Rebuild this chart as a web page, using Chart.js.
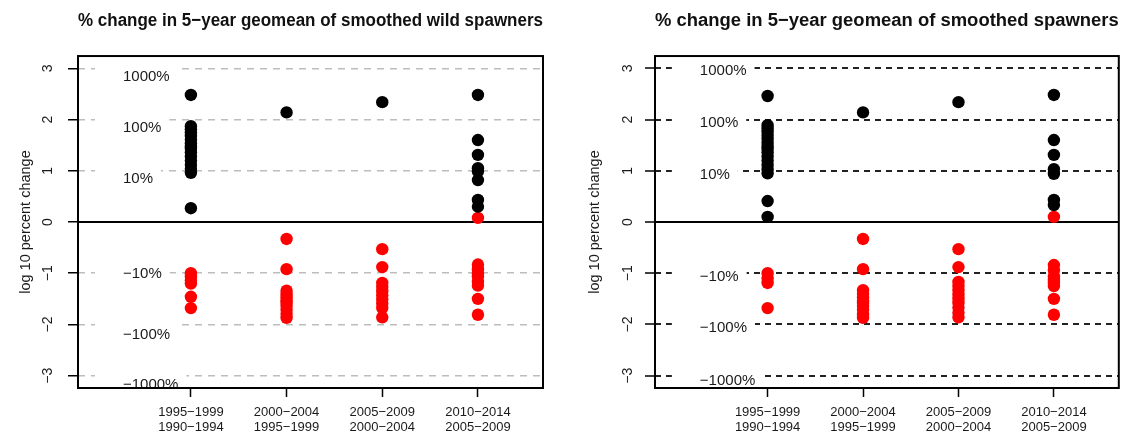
<!DOCTYPE html>
<html>
<head>
<meta charset="utf-8">
<script src="https://cdn.jsdelivr.net/npm/chart.js@4"></script>
<style>
  html, body { margin: 0; padding: 0; background: #fff; }
  #wrap { position: relative; width: 1125px; height: 436px; overflow: hidden; background: #fff; }
  canvas { position: absolute; top: 0; }
</style>
</head>
<body>
<div id="wrap">
  <canvas id="wild" width="565" height="436" style="left:0;width:565px;height:436px"></canvas>
  <canvas id="all" width="560" height="436" style="left:565px;width:560px;height:436px"></canvas>
</div>
<script>
// Period pairs compared (later period over earlier one)
const periods = [
  ['1995−1999', '1990−1994'],
  ['2000−2004', '1995−1999'],
  ['2005−2009', '2000−2004'],
  ['2010−2014', '2005−2009']
];
const yTicks = [-3, -2, -1, 0, 1, 2, 3];
const pctLevels = [3, 2, 1, -1, -2, -3];
const pctLabels = ['1000%', '100%', '10%', '−10%', '−100%', '−1000%'];

// log10 percent change per population, one inner list per period pair
const wildBlack = [
  [2.48, 1.87, 1.81, 1.75, 1.68, 1.61, 1.54, 1.48, 1.43, 1.36, 1.28, 1.20, 1.12, 1.04, 0.96, 0.27],
  [2.14],
  [2.34],
  [2.48, 1.60, 1.31, 1.05, 0.99, 0.82, 0.43, 0.30]
];
const wildRed = [
  [-1.00, -1.07, -1.14, -1.20, -1.46, -1.68],
  [-0.33, -0.92, -1.34, -1.41, -1.47, -1.53, -1.58, -1.64, -1.71, -1.79, -1.87],
  [-0.53, -0.88, -1.19, -1.27, -1.35, -1.43, -1.51, -1.59, -1.68, -1.86],
  [0.08, -0.83, -0.92, -1.00, -1.07, -1.17, -1.24, -1.50, -1.81]
];
const allBlack = [
  [2.46, 1.89, 1.83, 1.76, 1.69, 1.62, 1.55, 1.49, 1.43, 1.36, 1.28, 1.20, 1.12, 1.03, 0.95, 0.41, 0.10],
  [2.14],
  [2.34],
  [2.48, 1.60, 1.31, 1.03, 0.94, 0.43, 0.33]
];
const allRed = [
  [-1.00, -1.10, -1.19, -1.68],
  [-0.33, -0.92, -1.33, -1.40, -1.47, -1.53, -1.58, -1.64, -1.71, -1.80, -1.87],
  [-0.53, -0.88, -1.17, -1.25, -1.33, -1.42, -1.50, -1.58, -1.67, -1.77, -1.86],
  [0.10, -0.84, -0.94, -1.06, -1.13, -1.19, -1.25, -1.50, -1.81]
];

const FONT = "'Liberation Sans', Arial, Helvetica, sans-serif";
Chart.defaults.font.family = FONT;

function toPoints(groups) {
  return groups.flatMap((vals, i) => vals.map(v => ({ x: i + 1, y: v })));
}

// zero line, percent labels on white patches, and the box round the plot
const panelDecor = {
  id: 'panelDecor',
  beforeDatasetsDraw(chart, args, opts) {
    const { ctx, chartArea: a, scales: { x, y } } = chart;
    ctx.save();
    ctx.beginPath();
    ctx.rect(a.left, a.top, a.right - a.left, a.bottom - a.top);
    ctx.clip();
    const y0 = y.getPixelForValue(0);
    ctx.strokeStyle = '#000';
    ctx.lineWidth = 2;
    ctx.beginPath();
    ctx.moveTo(a.left, y0);
    ctx.lineTo(a.right, y0);
    ctx.stroke();
    ctx.font = '15px ' + FONT;
    ctx.textAlign = 'left';
    ctx.textBaseline = 'middle';
    const tx = x.getPixelForValue(opts.labelX);
    pctLevels.forEach((lv, i) => {
      const ly = y.getPixelForValue(lv);
      const w = ctx.measureText(pctLabels[i]).width;
      ctx.fillStyle = '#fff';
      ctx.fillRect(tx - 28, ly - 3, w + 36, 6);
      ctx.fillStyle = '#1a1a1a';
      ctx.fillText(pctLabels[i], tx, ly + opts.offsets[i]);
    });
    ctx.restore();
  },
  afterDatasetsDraw(chart) {
    const { ctx, chartArea: a } = chart;
    ctx.save();
    ctx.strokeStyle = '#000';
    ctx.lineWidth = 2;
    ctx.strokeRect(a.left, a.top, a.right - a.left, a.bottom - a.top);
    ctx.restore();
  }
};

function makePanel(id, title, black, red, st) {
  return new Chart(document.getElementById(id), {
    type: 'scatter',
    data: {
      datasets: [
        { data: toPoints(black), backgroundColor: '#000', borderWidth: 0, pointRadius: 6.2, pointHoverRadius: 6.2 },
        { data: toPoints(red), backgroundColor: '#ff0000', borderWidth: 0, pointRadius: 6.2, pointHoverRadius: 6.2 }
      ]
    },
    options: {
      responsive: false,
      animation: false,
      devicePixelRatio: 1,
      events: [],
      layout: { padding: { top: 10, left: 0, right: st.rightPad, bottom: 0 } },
      plugins: {
        legend: { display: false },
        tooltip: { enabled: false },
        title: {
          display: true, text: title, fullSize: false, color: '#111',
          font: { family: FONT, size: 18.7, weight: 'bold', lineHeight: 1.2 },
          padding: { top: 0, bottom: 23.6 }
        },
        panelDecor: { labelX: 0.29, offsets: st.labelOffsets }
      },
      scales: {
        x: {
          type: 'linear', min: -0.18, max: 4.68,
          afterBuildTicks: s => { s.ticks = periods.map((p, i) => ({ value: i + 1 })); },
          afterFit: s => { s.height = 48; },
          ticks: {
            callback: v => periods[v - 1],
            autoSkip: false, maxRotation: 0, padding: 8, color: '#1a1a1a',
            font: { family: FONT, size: 13, lineHeight: 1.15 }
          },
          grid: { drawOnChartArea: false, tickLength: 9, tickColor: '#000', tickWidth: 1.5 },
          border: { display: false }
        },
        y: {
          type: 'linear', min: -3.24, max: 3.24,
          afterBuildTicks: s => { s.ticks = yTicks.map(v => ({ value: v })); },
          afterFit: s => { s.width = st.axisWidth; },
          ticks: {
            callback: v => (v < 0 ? '−' + Math.abs(v) : String(v)),
            minRotation: 90, maxRotation: 90, crossAlign: 'center',
            padding: st.tickPad, color: '#1a1a1a', font: { family: FONT, size: 14 }
          },
          grid: {
            color: c => (c.tick && c.tick.value === 0 ? 'rgba(0,0,0,0)' : st.gridColor),
            lineWidth: st.gridWidth, tickLength: 10, tickColor: '#000', tickWidth: 1.5
          },
          border: { display: false, dash: st.gridDash },
          title: {
            display: true, text: 'log 10 percent change', color: '#1a1a1a',
            font: { family: FONT, size: 14.5, lineHeight: 1.2 },
            padding: { top: st.titlePad, bottom: 0 }
          }
        }
      }
    },
    plugins: [panelDecor]
  });
}

makePanel('wild', '% change in 5−year geomean of smoothed wild spawners', wildBlack, wildRed, {
  rightPad: 22, axisWidth: 78, tickPad: 11.5, titlePad: 17.3,
  gridColor: '#bdbdbd', gridWidth: 1.5, gridDash: [7, 6],
  labelOffsets: [9, 8, 8, 1, 10, 9]
});
makePanel('all', '% change in 5−year geomean of smoothed spawners', allBlack, allRed, {
  rightPad: 6, axisWidth: 90, tickPad: 8.5, titlePad: 21.3,
  gridColor: '#222', gridWidth: 2, gridDash: [6, 5],
  labelOffsets: [3, 3, 4, 4, 3, 5]
});
</script>
</body>
</html>
